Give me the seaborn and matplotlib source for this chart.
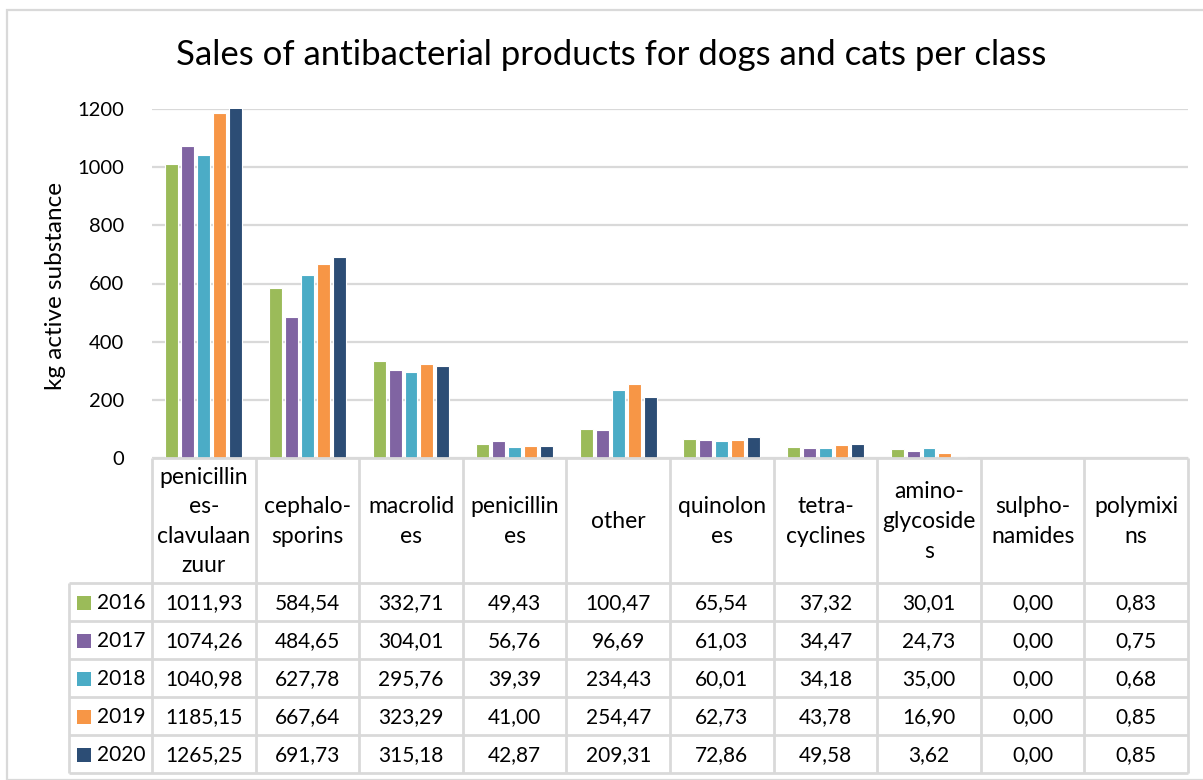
import matplotlib
matplotlib.use("Agg")
import matplotlib.pyplot as plt
from matplotlib.patches import Rectangle
import seaborn as sns
import pandas as pd

# --- data -------------------------------------------------------------
classes = [
    "penicillines-clavulaanzuur", "cephalosporins", "macrolides", "penicillines",
    "other", "quinolones", "tetracyclines", "aminoglycosides", "sulphonamides",
    "polymixins",
]
class_labels = [
    "penicillin\nes-\nclavulaan\nzuur", "cephalo-\nsporins", "macrolid\nes",
    "penicillin\nes", "other", "quinolon\nes", "tetra-\ncyclines",
    "amino-\nglycoside\ns", "sulpho-\nnamides", "polymixi\nns",
]
years = ["2016", "2017", "2018", "2019", "2020"]
sales_2016 = [1011.93, 584.54, 332.71, 49.43, 100.47, 65.54, 37.32, 30.01, 0.00, 0.83]
sales_2017 = [1074.26, 484.65, 304.01, 56.76, 96.69, 61.03, 34.47, 24.73, 0.00, 0.75]
sales_2018 = [1040.98, 627.78, 295.76, 39.39, 234.43, 60.01, 34.18, 35.00, 0.00, 0.68]
sales_2019 = [1185.15, 667.64, 323.29, 41.00, 254.47, 62.73, 43.78, 16.90, 0.00, 0.85]
sales_2020 = [1265.25, 691.73, 315.18, 42.87, 209.31, 72.86, 49.58, 3.62, 0.00, 0.85]
colors = ["#9BBB59", "#8064A2", "#4BACC6", "#F79646", "#2C4D75"]

series = [sales_2016, sales_2017, sales_2018, sales_2019, sales_2020]
df = pd.DataFrame(
    [(c, y, v) for y, vals in zip(years, series) for c, v in zip(classes, vals)],
    columns=["class", "year", "kg"],
)

# --- figure -------------------------------------------------------------
W, H = 1203, 780
sns.set_theme(style="white")
plt.rcParams["font.family"] = ["Lato", "DejaVu Sans"]
TXT = "#000000"
GRID = "#D9D9D9"

fig = plt.figure(figsize=(W / 100, H / 100), dpi=100)

def px_axes(x0, y0, x1, y1):
    return fig.add_axes([x0 / W, 1 - y1 / H, (x1 - x0) / W, (y1 - y0) / H])

# chart frame
fig.patches.append(Rectangle((7 / W, 0), 1.2, 1 - 10 / H, transform=fig.transFigure,
                             fill=False, edgecolor=GRID, linewidth=1.6))

plot_l, plot_r, plot_t, plot_b = 152, 1188, 109, 458
ax = px_axes(plot_l, plot_t, plot_r, plot_b)
sns.barplot(data=df, x="class", y="kg", hue="year", palette=colors, saturation=1,
            width=0.77, gap=0.19, edgecolor="white", linewidth=0.8,
            legend=False, ax=ax)
ax.set_xlim(-0.5, len(classes) - 0.5)
ax.set_ylim(0, 1200)
ax.set_yticks(range(0, 1201, 200))
ax.yaxis.grid(True, color=GRID, linewidth=1.6)
ax.set_axisbelow(True)
for s in ax.spines.values():
    s.set_visible(False)
ax.set_xticks([])
ax.set_xlabel("")
ax.set_ylabel("")
ax.tick_params(axis="y", length=0, pad=20, labelsize=14.5, labelcolor=TXT)
fig.text(56 / W, 1 - 286 / H, "kg active substance", rotation=90,
         ha="center", va="center", fontsize=17.5, color=TXT)

fig.text(611 / W, 1 - 55 / H, "Sales of antibacterial products for dogs and cats per class",
         ha="center", va="center", fontsize=25, color=TXT)

# --- data table ----------------------------------------------------------
tab_l, tab_b = 69, 773
head_h, row_h = 125, 38
unit = (plot_r - plot_l) / len(classes)
tab = px_axes(tab_l, plot_b, plot_r, tab_b)
tab.set_xlim(-0.5 - (plot_l - tab_l) / unit, len(classes) - 0.5)
tab.set_ylim(tab_b - plot_b, 0)
tab.axis("off")
x_left = -0.5 - (plot_l - tab_l) / unit
x_right = len(classes) - 0.5
line_kw = dict(color=GRID, linewidth=2, solid_capstyle="butt", clip_on=False)

# header cells
tab.plot([-0.5, x_right], [0, 0], **line_kw)
for i in range(len(classes) + 1):
    tab.plot([i - 0.5, i - 0.5], [0, head_h + row_h * len(years)], **line_kw)
tab.plot([x_left, x_left], [head_h, head_h + row_h * len(years)], **line_kw)
for r in range(len(years) + 1):
    y = head_h + r * row_h
    tab.plot([x_left, x_right], [y, y], **line_kw)

for i, lab in enumerate(class_labels):
    tab.text(i, head_h / 2 + 1, lab, ha="center", va="center", fontsize=16.5,
             color=TXT, linespacing=1.5)

key = 14 / unit
for r, (yr, vals, col) in enumerate(zip(years, series, colors)):
    yc = head_h + r * row_h + row_h / 2 + 1
    tab.add_patch(Rectangle((x_left + 8 / unit, yc - 7), key, 14, facecolor=col,
                            edgecolor="none", clip_on=False))
    tab.text(x_left + 28 / unit, yc, yr, ha="left", va="center", fontsize=15, color=TXT)
    for i, v in enumerate(vals):
        tab.text(i, yc, f"{v:.2f}".replace(".", ","), ha="center", va="center",
                 fontsize=15, color=TXT)

fig.savefig("out.png", dpi=100)
